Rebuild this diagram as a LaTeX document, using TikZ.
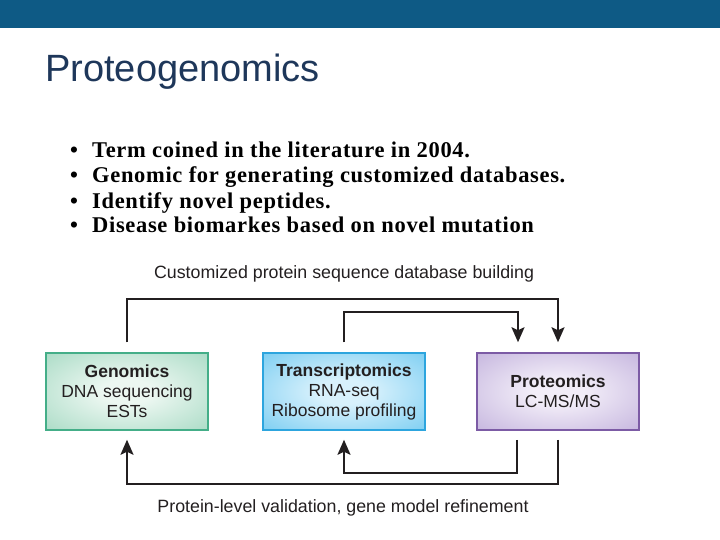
\documentclass[tikz,border=0pt]{standalone}
\usepackage{fontspec}
\setmainfont{Liberation Serif}
\setsansfont{Liberation Sans}
\usetikzlibrary{positioning, arrows.meta}
\definecolor{barblue}{RGB}{14,90,133}
\definecolor{titleblue}{RGB}{30,55,90}
\definecolor{ink}{RGB}{35,31,32}
\definecolor{genline}{RGB}{68,174,136}
\definecolor{genout}{RGB}{138,206,177}
\definecolor{genin}{RGB}{236,247,241}
\definecolor{trline}{RGB}{45,165,222}
\definecolor{trout}{RGB}{80,189,237}
\definecolor{trin}{RGB}{216,241,252}
\definecolor{prline}{RGB}{124,91,165}
\definecolor{prout}{RGB}{176,155,210}
\definecolor{prin}{RGB}{242,237,248}
\colorlet{glowin}{white}
\colorlet{glowout}{gray}
\pgfdeclareradialshading[glowin,glowout]{glow}{\pgfpoint{0bp}{0bp}}{color(0bp)=(glowin); color(8bp)=(glowin); color(50bp)=(glowout)}

\begin{document}
\begin{tikzpicture}[x=1pt, y=-1pt,
    box/.style={rectangle, draw, line width=1.5pt, minimum width=162pt, minimum height=77pt, align=center, inner sep=0pt, shading=glow, text=ink, font=\sffamily\fontsize{17.5}{20}\selectfont},
    glowset/.style 2 args={/utils/exec={\colorlet{glowin}{#1}\colorlet{glowout}{#2}}},
    link/.style={draw=ink, line width=2pt, -{Stealth[length=15pt, width=13pt, inset=3pt]}},
    item/.style={anchor=base west, inner sep=0pt, font=\bfseries\fontsize{22.5}{25}\selectfont\addfontfeature{LetterSpace=3}},
    caption/.style={text=ink, inner sep=0pt, font=\sffamily\fontsize{17.8}{20}\selectfont}]
    \useasboundingbox (0,0) rectangle (720,540);
    % Header
    \fill[barblue] (0,0) rectangle (720,28);
    \node (title) at (45,82) [anchor=base west, inner sep=0pt, text=titleblue, font=\sffamily\fontsize{38}{44}\selectfont] {Proteogenomics};

    % Bullet list
    \node (d1) at (70,158) [item] {•};
    \node (t1) at (92,158) [item] {Term coined in the literature in 2004.};
    \node (d2) at (70,183) [item] {•};
    \node (t2) at (92,183) [item] {Genomic for generating customized databases.};
    \node (d3) at (70,208) [item] {•};
    \node (t3) at (92,208) [item] {Identify novel peptides.};
    \node (d4) at (70,233) [item] {•};
    \node (t4) at (92,233) [item] {Disease biomarkes based on novel mutation};

    % Omics boxes
    \node (gen) at (127,391.5) [box, draw=genline, glowset={genin}{genout}] {\textbf{Genomics}\\DNA sequencing\\ESTs};
    \node (trans) at (344,391.5) [box, draw=trline, glowset={trin}{trout}] {\textbf{Transcriptomics}\\RNA-seq\\Ribosome profiling};
    \node (prot) at (558,391.5) [box, draw=prline, glowset={prin}{prout}] {\textbf{Proteomics}\\LC-MS/MS};

    % Database building
    \node (build) at (344,274) [caption] {Customized protein sequence database building};
    \draw[link] ([yshift=10pt]gen.north) -- ++(0,-43) -| ([yshift=10pt]prot.north);
    \draw[link] ([yshift=10pt]trans.north) -- ++(0,-30) -| ([xshift=-40pt, yshift=10pt]prot.north);

    % Validation
    \node (valid) at (343,508) [caption] {Protein-level validation, gene model refinement};
    \draw[link] ([yshift=-9pt]prot.south) -- ++(0,44) -| ([yshift=-9pt]gen.south);
    \draw[link] ([xshift=-41pt, yshift=-9pt]prot.south) -- ++(0,33) -| ([yshift=-9pt]trans.south);
\end{tikzpicture}
\end{document}
